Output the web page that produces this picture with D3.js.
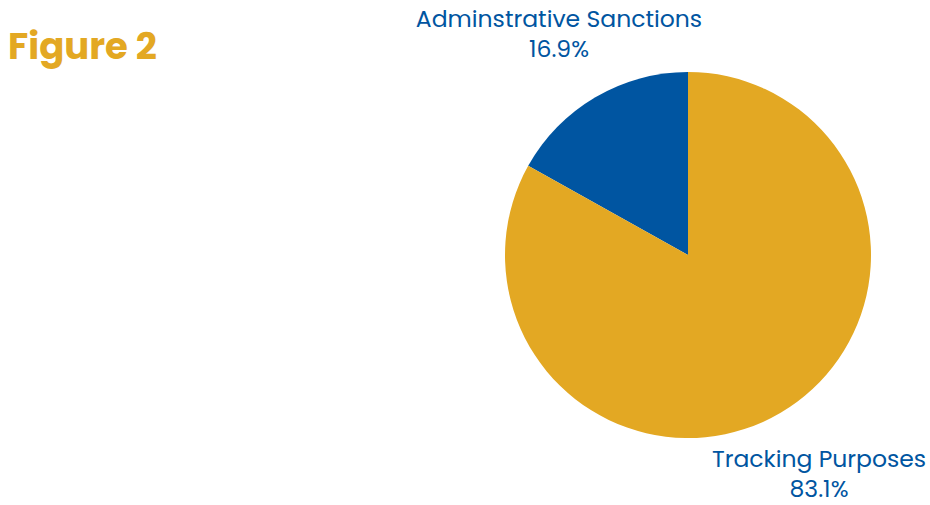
<!DOCTYPE html>
<html>
<head>
<meta charset="utf-8">
<script src="https://cdn.jsdelivr.net/npm/d3@7"></script>
<style>
body{margin:0;background:#fff;}
svg{display:block;}
</style>
</head>
<body>
<svg id="chart" width="930" height="505"></svg>
<script>
const categories = ["Adminstrative Sanctions", "Tracking Purposes"];
const values = [16.9, 83.1];
const valueLabels = ["16.9%", "83.1%"];
const colors = ["#0055A1", "#E3A823"];

const svg = d3.select("#chart");
const cx = 688, cy = 255, r = 183;

svg.append("text")
  .attr("x", 8).attr("y", 59)
  .attr("font-family", "Poppins, 'Open Sans', sans-serif")
  .attr("font-weight", 700)
  .attr("font-size", 37)
  .attr("fill", "#E3A823")
  .text("Figure 2");

const pie = d3.pie().sort(null).value(d => d)
  .startAngle(-2 * Math.PI * values[0] / 100)
  .endAngle(2 * Math.PI - 2 * Math.PI * values[0] / 100);
const arcs = pie(values);
const arc = d3.arc().innerRadius(0).outerRadius(r);

const g = svg.append("g").attr("transform", `translate(${cx},${cy})`);
g.selectAll("path").data(arcs).enter().append("path")
  .attr("d", arc)
  .attr("fill", (d, i) => colors[i]);

const labelPos = [[559, 27, 30], [819, 467, 30]];
const lg = svg.append("g")
  .attr("font-family", "Poppins, 'Open Sans', sans-serif")
  .attr("font-size", 23.5)
  .attr("fill", "#0055A1")
  .attr("text-anchor", "middle");
categories.forEach((c, i) => {
  const t = lg.append("text").attr("x", labelPos[i][0]).attr("y", labelPos[i][1]);
  t.append("tspan").attr("x", labelPos[i][0]).text(c);
  t.append("tspan").attr("x", labelPos[i][0]).attr("dy", labelPos[i][2]).text(valueLabels[i]);
});
</script>
</body>
</html>
